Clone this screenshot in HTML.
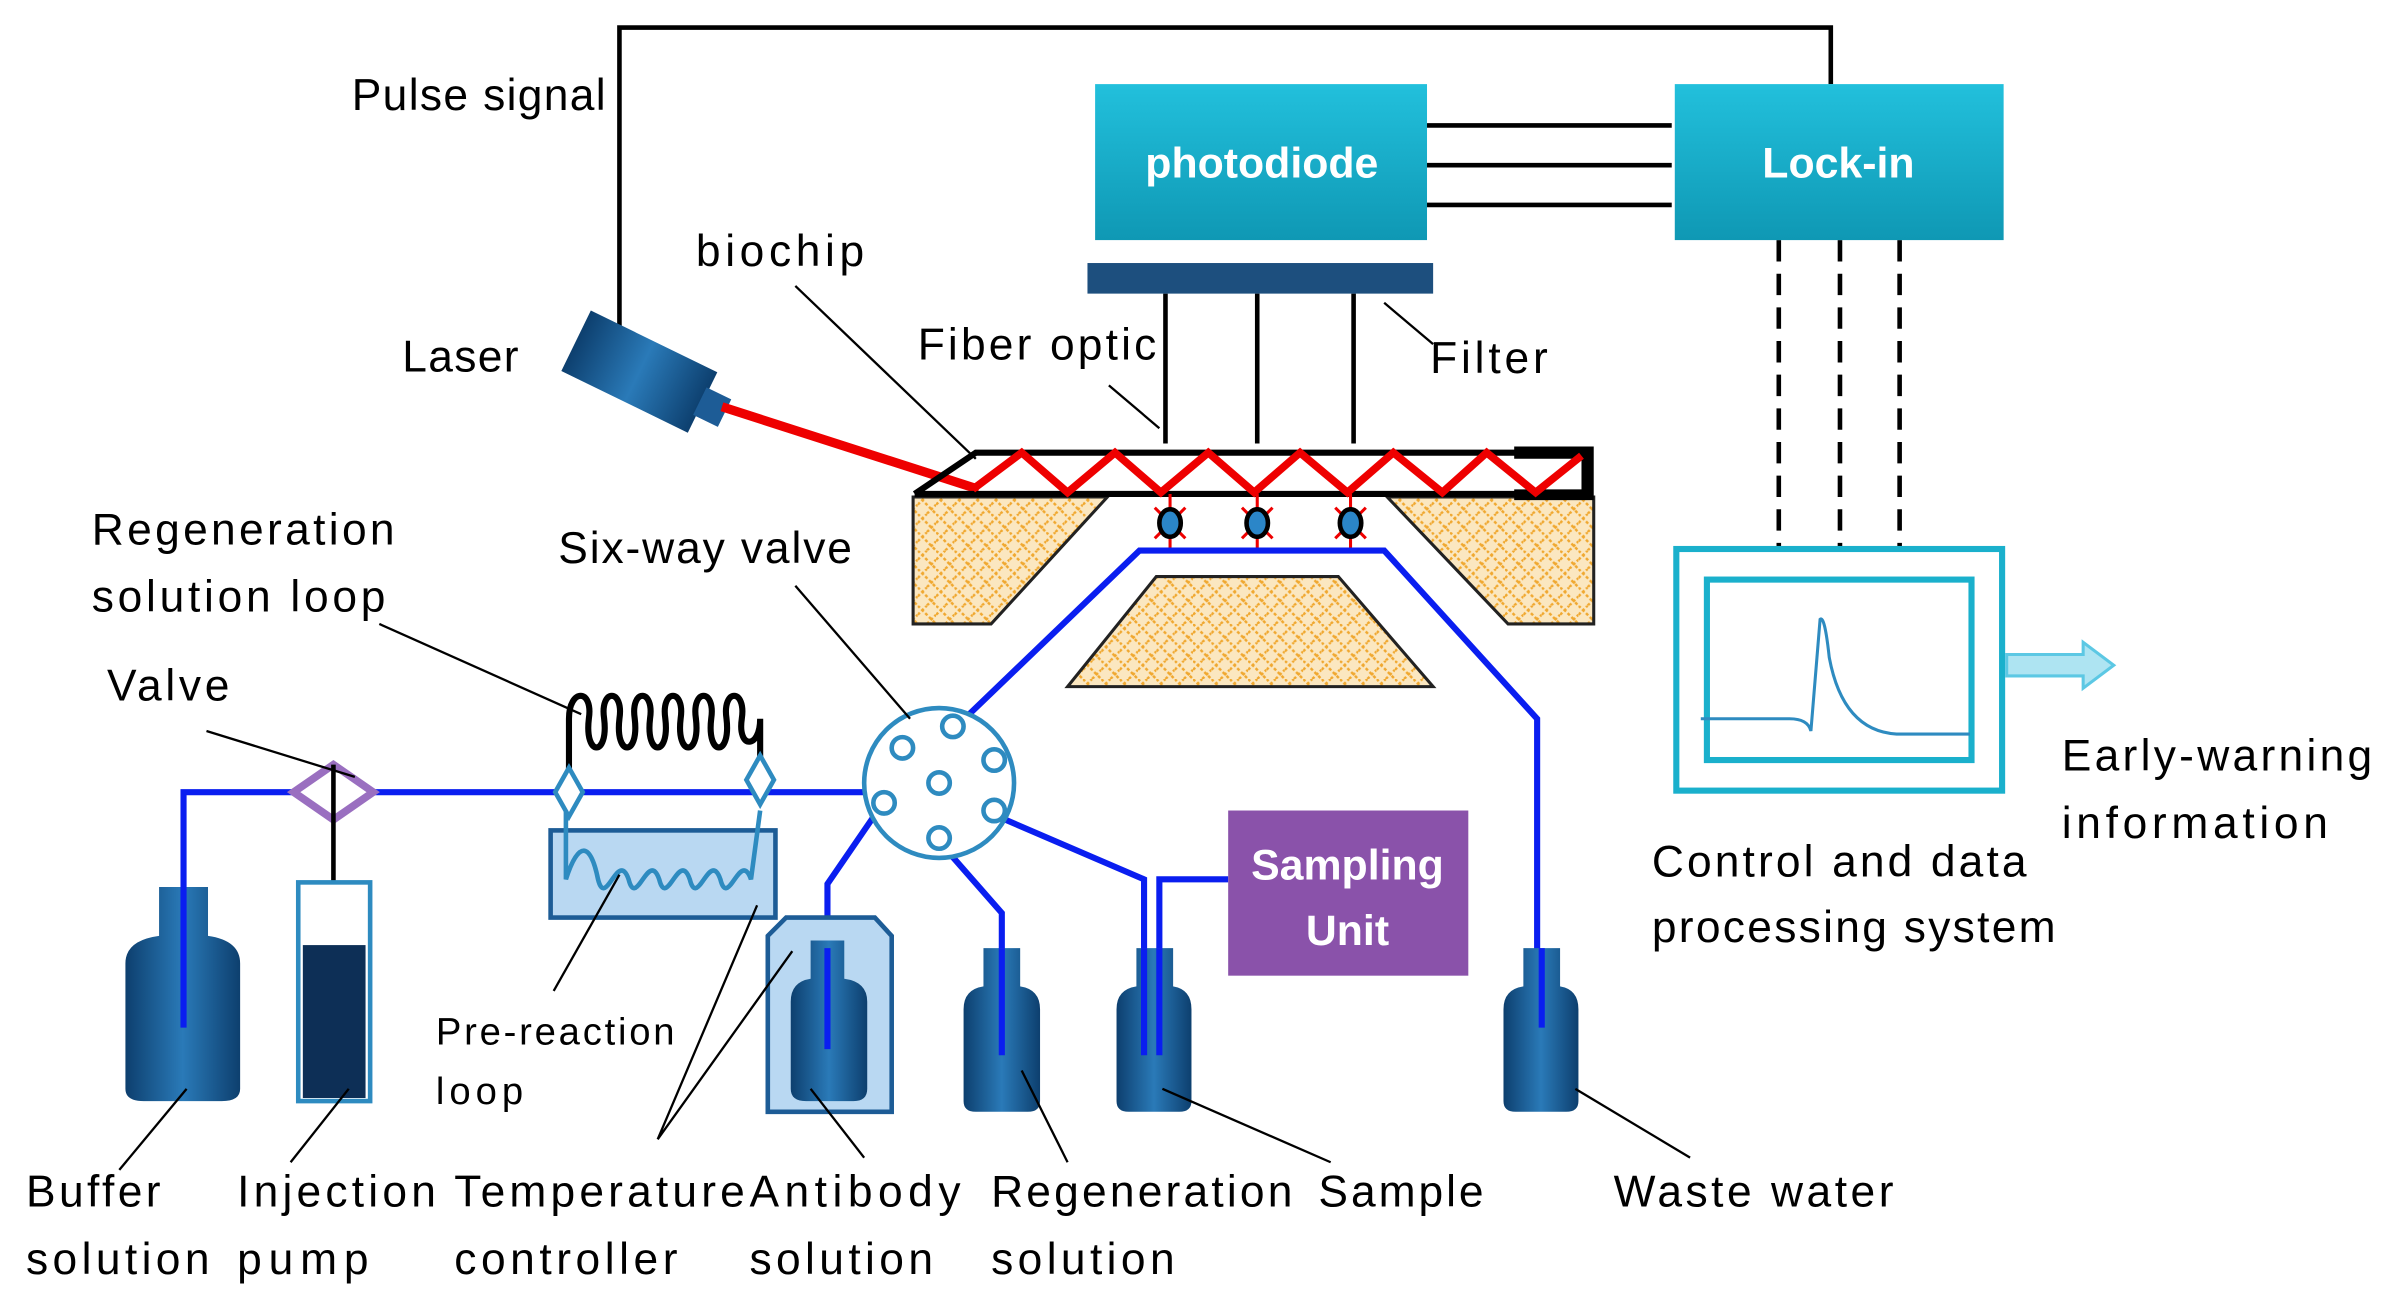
<!DOCTYPE html>
<html><head><meta charset="utf-8"><style>html,body{margin:0;padding:0;background:#fff}svg{display:block}</style></head>
<body>
<svg width="2386" height="1306" viewBox="0 0 1560 854" preserveAspectRatio="none" xmlns="http://www.w3.org/2000/svg" font-family="Liberation Sans, sans-serif">
<defs>
<linearGradient id="teal" x1="0" y1="0" x2="0" y2="1"><stop offset="0" stop-color="#22c0dc"/><stop offset="1" stop-color="#0f98b4"/></linearGradient>
<linearGradient id="bot" x1="0" y1="0" x2="1" y2="0"><stop offset="0" stop-color="#0d3f6e"/><stop offset="0.5" stop-color="#2a7ab8"/><stop offset="1" stop-color="#0d3f6e"/></linearGradient>
<pattern id="hatch" width="12" height="12" patternUnits="userSpaceOnUse"><rect width="12" height="12" fill="#fbe7c0"/><path d="M0 6 L6 0 M6 12 L12 6 M0 0 L12 12" stroke="#f0a830" stroke-width="1.6" stroke-dasharray="2 1.5"/></pattern>
</defs>
<g fill="none" stroke="#000" stroke-width="3">
<path d="M405 220 V18 H1197 V55"/>
<path d="M933 82 H1093 M933 108 H1093 M933 134 H1093"/>
<path d="M762 192 V290 M822 192 V290 M885 192 V290"/>
<path d="M1163 157 V358 M1203 157 V358 M1242 157 V358" stroke-dasharray="14 8"/>
</g>
<rect x="716" y="55" width="217" height="102" fill="url(#teal)"/>
<rect x="1095" y="55" width="215" height="102" fill="url(#teal)"/>
<text x="825" y="116" font-size="28" font-weight="bold" fill="#fff" text-anchor="middle">photodiode</text>
<text x="1202" y="116" font-size="28" font-weight="bold" fill="#fff" text-anchor="middle">Lock-in</text>
<rect x="711" y="172" width="226" height="20" fill="#1d4f7e"/>
<g transform="translate(418,243) rotate(26)"><rect x="-46" y="-22" width="92" height="44" fill="url(#bot)"/><rect x="44" y="-10" width="18" height="20" fill="#1d5c96"/></g>
<path d="M472 266 L640 320" stroke="#e00" stroke-width="6"/>
<g fill="url(#hatch)" stroke="#222" stroke-width="2">
<path d="M597 325 H724 L648 408 H597 Z"/>
<path d="M907 325 H1042 V408 H986 Z"/>
<path d="M756 377 H875 L937 449 H698 Z"/>
</g>
<path d="M598 323 L638 296 H1040 M598 323 H1040" stroke="#000" stroke-width="4" fill="none"/>
<path d="M990 292 H1042 V327 H990 V320 H1034 V300 H990 Z" fill="#000"/>
<path d="M636 320 L668 296 L698 322 L729 296 L759 322 L790 296 L820 322 L850 296 L881 322 L911 296 L943 322 L972 296 L1004 322 L1034 298" stroke="#e00" stroke-width="5" fill="none"/>
<g stroke="#e00" stroke-width="2">
<path d="M765 323 V360 M822 323 V360 M883 323 V360"/>
<path d="M755 332 l20 20 M775 332 l-20 20 M812 332 l20 20 M832 332 l-20 20 M873 332 l20 20 M893 332 l-20 20"/>
</g>
<g fill="#2b86c8" stroke="#000" stroke-width="3"><ellipse cx="765" cy="342" rx="7" ry="9"/><ellipse cx="822" cy="342" rx="7" ry="9"/><ellipse cx="883" cy="342" rx="7" ry="9"/></g>
<g fill="none" stroke="#0a1ef0" stroke-width="4">
<path d="M615 485 L745 360 H905 L1005 470 V672"/>
<path d="M120 672 V518 H612"/>
<path d="M576 527 L541 578 V686"/>
<path d="M612 548 L655 597 V690"/>
<path d="M648 532 L748 575 V690 M758 690 V575 H803"/>
</g>
<circle cx="614" cy="512" r="49" fill="#fff" stroke="#2e8bc0" stroke-width="3"/>
<g fill="#fff" stroke="#2e8bc0" stroke-width="3">
<circle cx="590" cy="489" r="7"/><circle cx="623" cy="475" r="7"/><circle cx="650" cy="497" r="7"/><circle cx="650" cy="530" r="7"/><circle cx="614" cy="548" r="7"/><circle cx="578" cy="525" r="7"/><circle cx="614" cy="512" r="7"/>
</g>
<path d="M372 515 V470 C372 450 388 450 385 470 C382 495 398 495 395 470 C392 450 408 450 405 470 C402 495 418 495 415 470 C412 450 428 450 425 470 C422 495 438 495 435 470 C432 450 448 450 445 470 C442 495 458 495 455 470 C452 450 468 450 465 470 C462 495 478 495 475 470 C472 450 488 450 485 470 C482 490 497 490 497 470 V512" stroke="#000" stroke-width="4" fill="none"/>
<g stroke="#2e8bc0" stroke-width="3" fill="#fff"><path d="M372 502 l9 16 l-9 16 l-9 -16 z"/><path d="M497 494 l9 16 l-9 16 l-9 -16 z"/></g>
<path d="M218 500 l26 18 l-26 18 l-26 -18 z" fill="#fff" stroke="#9a6fc0" stroke-width="5"/>
<path d="M218 500 V620" stroke="#000" stroke-width="3"/>
<rect x="360" y="543" width="147" height="57" fill="#b9d8f2" stroke="#1d5c96" stroke-width="3"/>
<path d="M370 530 V575 C378 550 386 550 391 575 C396 595 404 555 411 575 C416 595 424 555 431 575 C436 595 444 555 451 575 C456 595 464 555 471 575 C476 595 484 555 491 575 L497 530" stroke="#2e8bc0" stroke-width="3" fill="none"/>
<path d="M104 580 H136 V612 Q157 615 157 630 V712 Q157 720 145 720 H94 Q82 720 82 712 V630 Q82 615 104 612 Z" fill="url(#bot)"/>
<rect x="195" y="577" width="47" height="143" fill="#fff" stroke="#2e8bc0" stroke-width="3"/>
<rect x="198" y="618" width="41" height="100" fill="#0d2f56"/>
<path d="M502 612 L514 600 H572 L583 612 V727 H502 Z" fill="#b9d8f2" stroke="#1d5c96" stroke-width="3"/>
<path d="M530 615 H552 V640 Q567 642 567 655 V712 Q567 720 558 720 H527 Q517 720 517 712 V655 Q517 642 530 640 Z" fill="url(#bot)"/>
<path d="M643 620 H667 V645 Q680 647 680 660 V720 Q680 727 672 727 H638 Q630 727 630 720 V660 Q630 647 643 645 Z" fill="url(#bot)"/>
<path d="M743 620 H767 V645 Q779 647 779 660 V720 Q779 727 771 727 H738 Q730 727 730 720 V660 Q730 647 743 645 Z" fill="url(#bot)"/>
<path d="M996 620 H1020 V645 Q1032 647 1032 660 V720 Q1032 727 1024 727 H991 Q983 727 983 720 V660 Q983 647 996 645 Z" fill="url(#bot)"/>
<g stroke="#0a1ef0" stroke-width="4"><path d="M120 580 V672 M541 620 V686 M655 620 V690 M748 620 V690 M758 620 V690 M1008 620 V672"/></g>
<rect x="803" y="530" width="157" height="108" fill="#8a52aa"/>
<text x="881" y="575" font-size="28" font-weight="bold" fill="#fff" text-anchor="middle">Sampling</text>
<text x="881" y="618" font-size="28" font-weight="bold" fill="#fff" text-anchor="middle">Unit</text>
<rect x="1096" y="359" width="213" height="158" fill="#fff" stroke="#1ab0cc" stroke-width="4"/>
<rect x="1116" y="379" width="173" height="118" fill="#fff" stroke="#1ab0cc" stroke-width="4"/>
<path d="M1112 470 H1170 Q1182 470 1184 478 Q1188 430 1190 405 Q1193 402 1196 430 Q1205 478 1240 480 H1288" stroke="#2e8bc0" stroke-width="2" fill="none"/>
<path d="M1312 428 H1362 V420 L1382 435 L1362 450 V442 H1312 Z" fill="#aee4f2" stroke="#5cc8e4" stroke-width="2"/>
<g stroke="#000" stroke-width="1.5" fill="none">
<path d="M520 187 L638 300"/><path d="M725 252 L758 280"/><path d="M905 198 L937 225"/>
<path d="M520 383 L595 470"/><path d="M248 408 L380 467"/><path d="M135 478 L232 508"/>
<path d="M362 648 L405 572"/><path d="M430 745 L495 592 M430 745 L518 622"/>
<path d="M78 765 L122 712"/><path d="M190 760 L228 712"/><path d="M565 757 L530 712"/>
<path d="M698 760 L668 700"/><path d="M870 760 L760 712"/><path d="M1105 757 L1030 712"/>
</g>
<g font-size="29" fill="#000">
<text x="230" y="72" textLength="166">Pulse signal</text>
<text x="455" y="174" textLength="110">biochip</text>
<text x="263" y="243" textLength="76">Laser</text>
<text x="600" y="235" textLength="156">Fiber optic</text>
<text x="935" y="244" textLength="77">Filter</text>
<text x="60" y="356" textLength="198">Regeneration</text>
<text x="60" y="400" textLength="192">solution loop</text>
<text x="365" y="368" textLength="192">Six-way valve</text>
<text x="70" y="458" textLength="80">Valve</text>
<text x="1348" y="504" textLength="203">Early-warning</text>
<text x="1348" y="548" textLength="174">information</text>
<text x="1080" y="573" textLength="245">Control and data</text>
<text x="1080" y="616" textLength="264">processing system</text>
<text x="17" y="789" textLength="88">Buffer</text>
<text x="17" y="833" textLength="120">solution</text>
<text x="155" y="789" textLength="130">Injection</text>
<text x="155" y="833" textLength="86">pump</text>
<text x="297" y="789" textLength="190">Temperature</text>
<text x="297" y="833" textLength="146">controller</text>
<text x="490" y="789" textLength="138">Antibody</text>
<text x="490" y="833" textLength="120">solution</text>
<text x="648" y="789" textLength="197">Regeneration</text>
<text x="648" y="833" textLength="120">solution</text>
<text x="862" y="789" textLength="108">Sample</text>
<text x="1055" y="789" textLength="183">Waste water</text>
</g>
<g font-size="25" fill="#000">
<text x="285" y="683" textLength="156">Pre-reaction</text>
<text x="285" y="722" textLength="57">loop</text>
</g>
</svg>
</body></html>
